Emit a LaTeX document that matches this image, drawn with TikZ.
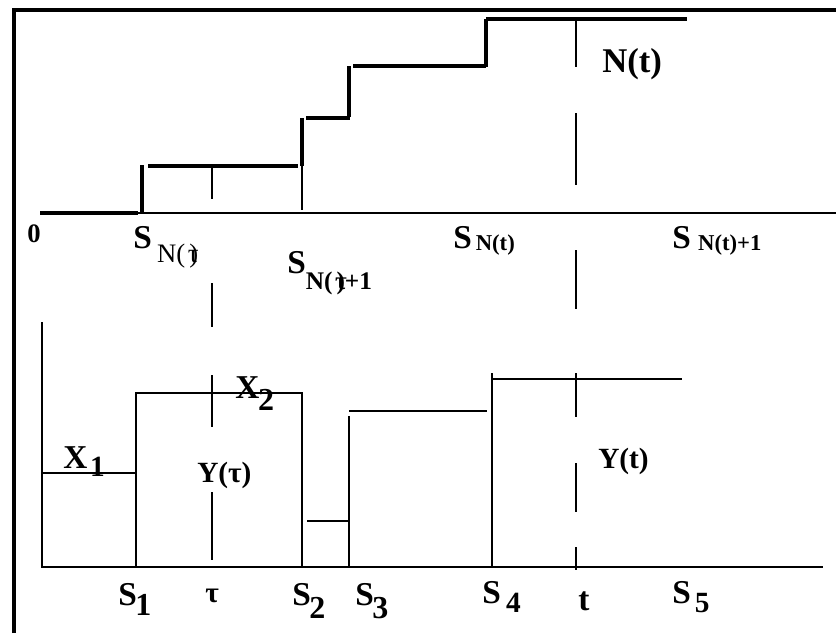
\documentclass[tikz,border=0pt]{standalone}
\usepackage{fontspec}
\setmainfont{Liberation Serif}
\usepackage{tikz}
\newcommand{\setfs}[1]{\fontsize{#1}{#1}\selectfont}
\newcommand{\sublab}[4]{\kern#1\raisebox{-#2}{\setfs{#3}#4}}

\begin{document}
\begin{tikzpicture}[x=0.75pt, y=-0.75pt, line cap=butt]
  \tikzstyle{frameline}=[line width=3pt]
  \tikzstyle{axisline}=[line width=1.8pt]
  \tikzstyle{stepline}=[line width=3.4pt]
  \tikzstyle{level}=[line width=1.6pt]
  \tikzstyle{guide}=[line width=1.6pt]
  \tikzstyle{lab}=[anchor=base west, inner sep=0pt, font=\bfseries]
  \useasboundingbox (0,0) rectangle (836,633);
  % frame
  \draw[frameline] (14,633) -- (14,10) -- (836,10);
  % counting process N(t)
  \draw[axisline] (40,213) -- (836,213);
  \draw[stepline] (40,213) -- (138,213);
  \draw[stepline] (142,165) -- (142,214);
  \draw[stepline] (148,166) -- (298,166);
  \draw[stepline] (302,118) -- (302,166);
  \draw[level] (302,166) -- (302,210);
  \draw[stepline] (306,118) -- (350,118);
  \draw[stepline] (349,66) -- (349,117);
  \draw[stepline] (353,66) -- (486,66);
  \draw[stepline] (486,19) -- (486,67);
  \draw[stepline] (486,19) -- (687,19);
  % inter-arrival times
  \draw[axisline] (42,322) -- (42,567) -- (823,567);
  \draw[level] (42,473) -- (136,473);
  \draw[level] (136,567) -- (136,393) -- (302,393) -- (302,567);
  \draw[level] (307,521) -- (349,521);
  \draw[level] (349,567) -- (349,416);
  \draw[level] (349,411) -- (487,411);
  \draw[level] (492,567) -- (492,373);
  \draw[level] (492,379) -- (682,379);
  % time marks tau and t
  \foreach \a/\b in {166/199, 283/327, 375/427, 492/560}
    \draw[guide] (212,\a) -- (212,\b);
  \foreach \a/\b in {21/67, 113/185, 250/309, 373/417, 463/512, 547/570}
    \draw[guide] (576,\a) -- (576,\b);
  % labels
  \node[lab] (zero) at (27,242) {\setfs{20pt}0};
  \node[lab] (sntau) at (133,248) {\setfs{25pt}S\sublab{4pt}{11pt}{20pt}{\mdseries N(\kern2pt\rlap{τ}\kern1pt)}};
  \node[lab] (sntaunext) at (287,273) {\setfs{25pt}S\sublab{0pt}{12pt}{19pt}{N(\kern2pt\rlap{τ}\kern1pt)+1}};
  \node[lab] (snt) at (453,248) {\setfs{25pt}S\sublab{3pt}{1.5pt}{17pt}{N(t)}};
  \node[lab] (sntnext) at (672,248) {\setfs{25pt}S\sublab{5.5pt}{1.5pt}{17pt}{N(t)+1}};
  \node[lab] (nt) at (602,72) {\setfs{26pt}N(t)};
  \node[lab] (x1) at (63,468) {\setfs{25pt}X\sublab{2pt}{6pt}{22pt}{1}};
  \node[lab] (x2) at (235,398) {\setfs{25pt}X\sublab{-1pt}{9pt}{24pt}{2}};
  \node[lab] (ytau) at (197,482) {\setfs{22pt}Y(τ)};
  \node[lab] (yt) at (598,468) {\setfs{22pt}Y(t)};
  \node[lab] (s1) at (118,605) {\setfs{25pt}S\sublab{-1pt}{7.5pt}{24pt}{1}};
  \node[lab] (tau) at (205,602) {\setfs{22pt}τ};
  \node[lab] (s2) at (292,605) {\setfs{25pt}S\sublab{-1pt}{10pt}{24pt}{2}};
  \node[lab] (s3) at (355,605) {\setfs{25pt}S\sublab{-1pt}{10pt}{24pt}{3}};
  \node[lab] (s4) at (482,603) {\setfs{25pt}S\sublab{4pt}{7pt}{22pt}{4}};
  \node[lab] (tmark) at (578,610) {\setfs{25pt}t};
  \node[lab] (s5) at (672,603) {\setfs{25pt}S\sublab{3pt}{7pt}{22pt}{5}};
\end{tikzpicture}
\end{document}
